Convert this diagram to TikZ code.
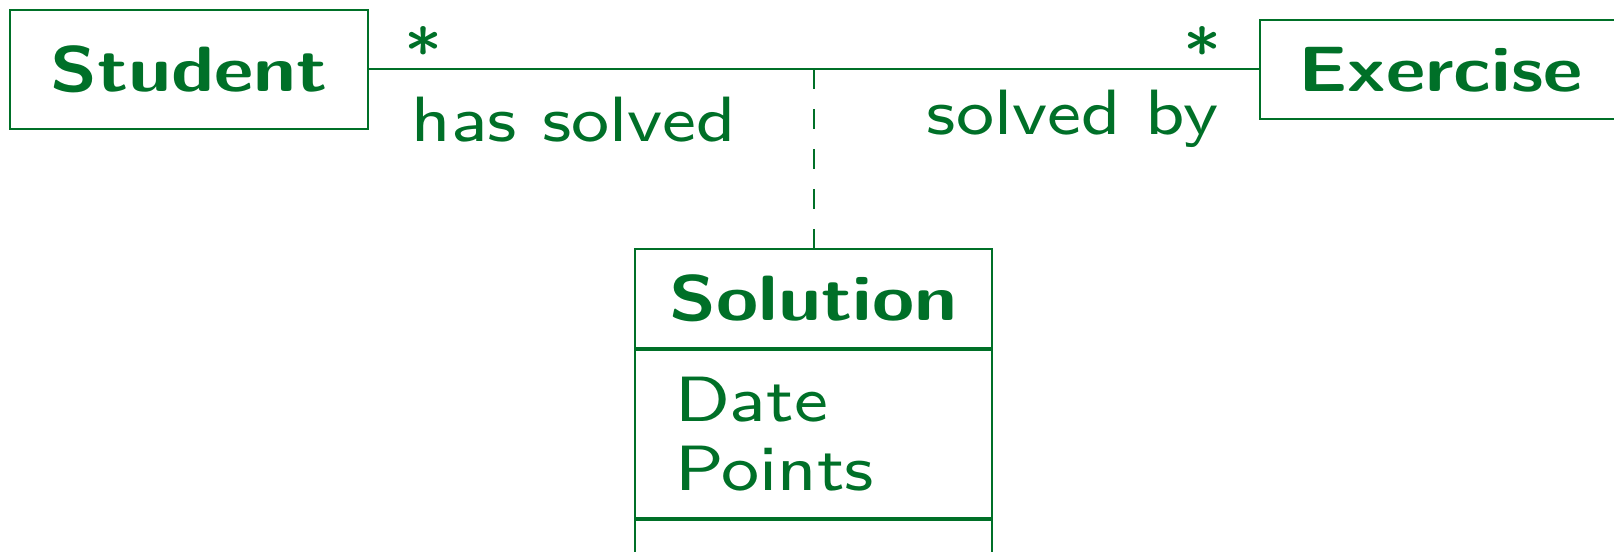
\documentclass[tikz,border=0pt]{standalone}
\usepackage{fontspec}
\newfontfamily\umlfont{lmsans8-regular.otf}[FakeStretch=1.12]
\newfontfamily\umlbold{lmsans10-bold.otf}[FakeStretch=1.2]
\usepackage{tikz}

\definecolor{umlgreen}{RGB}{0,112,40}

\tikzset{
    classbox/.style={draw=umlgreen, line width=0.5pt, rectangle, inner sep=0pt, text=umlgreen,
        font=\fontsize{16}{17.25}\selectfont\umlfont},
    classname/.style={classbox, font=\fontsize{16}{20}\selectfont\umlbold},
    umltext/.style={inner sep=0pt, text=umlgreen, font=\fontsize{16}{20}\selectfont\umlfont},
}

\begin{document}
\begin{tikzpicture}[x=0.25pt,y=0.25pt,yscale=-1,xscale=1]

        \useasboundingbox (0,0) rectangle (1614,552);
        \clip (0,0) rectangle (1614,552);

        % classes
        \node (student) [classname, minimum width=89.5pt, minimum height=29.75pt] at (189,69.5) {Student};
        \node (exercise) [classname, minimum width=90.25pt, minimum height=24.75pt] at (1440.5,69.5) {Exercise};

        \node (solution) [classname, minimum width=89.25pt, minimum height=24.75pt] at (813.5,298.5) {Solution};
        \node (attrs) [classbox, minimum width=89.25pt, minimum height=42pt, text width=69.25pt, inner xsep=10pt, align=left, anchor=north] at (solution.south) {Date\\Points};
        \node (ops) [classbox, minimum width=89.25pt, minimum height=24.75pt, anchor=north] at (attrs.south) {};

        % association
        \draw [umlgreen, line width=0.5pt] (student.east) -- (exercise.west);
        \coordinate (mid) at (solution.north |- student.east);
        \draw [umlgreen, line width=0.5pt, dash pattern=on 5pt off 5pt] (mid) -- (solution.north);

        \node (mult1) [umltext, anchor=base] at (424,75) {*};
        \node (mult2) [umltext, anchor=base] at (1203,75) {*};
        \node (role1) [umltext, anchor=base west] at (411,142) {has solved};
        \node (role2) [umltext, anchor=base east] at (1219,135) {solved by};

    \end{tikzpicture}
\end{document}
